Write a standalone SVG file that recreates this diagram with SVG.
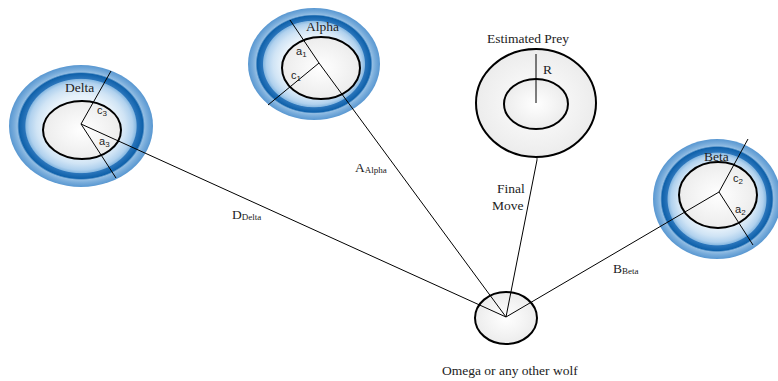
<svg xmlns="http://www.w3.org/2000/svg" width="778" height="381" viewBox="0 0 778 381">
  <defs>
    <radialGradient id="ring" cx="0.5" cy="0.5" r="0.5">
      <stop offset="0" stop-color="#ffffff"/>
      <stop offset="0.50" stop-color="#e6f1fa"/>
      <stop offset="0.62" stop-color="#d0e4f5"/>
      <stop offset="0.72" stop-color="#b0d1ee"/>
      <stop offset="0.765" stop-color="#8abae2"/>
      <stop offset="0.78" stop-color="#2a75bb"/>
      <stop offset="0.86" stop-color="#0f61aa"/>
      <stop offset="0.885" stop-color="#92bde3"/>
      <stop offset="0.93" stop-color="#78acdb"/>
      <stop offset="1" stop-color="#5897d1"/>
    </radialGradient>
    <radialGradient id="core" cx="0.5" cy="0.5" r="0.5">
      <stop offset="0" stop-color="#ffffff"/>
      <stop offset="1" stop-color="#ececec"/>
    </radialGradient>
  </defs>
  <style>
    .ln { stroke: #000; stroke-width: 1; fill: none; }
    .circ { stroke: #000; stroke-width: 2; fill: url(#core); }
    .wring { stroke: none; fill: url(#ring); }
    .lbl { font-family: "Liberation Serif", "Times New Roman", serif; font-size: 13.5px; fill: #222; }
    .sub { font-family: "Liberation Serif", "Times New Roman", serif; font-size: 9px; fill: #222; }
    .var { font-family: "Liberation Sans", Arial, sans-serif; font-size: 11px; fill: #222; }
    .vsub { font-family: "Liberation Sans", Arial, sans-serif; font-size: 8px; fill: #222; }
  </style>

  <rect width="778" height="381" fill="#ffffff"/>

  <!-- Delta wolf -->
  <g id="delta">
    <ellipse class="wring" cx="81" cy="126" rx="72" ry="61"/>
    <ellipse class="circ" cx="82" cy="130" rx="39" ry="29"/>
    <text class="lbl" x="65" y="92">Delta</text>
    <text class="var" x="97" y="114">c<tspan class="vsub" dy="2">3</tspan></text>
    <text class="var" x="99" y="145">a<tspan class="vsub" dy="2">3</tspan></text>
  </g>

  <!-- Alpha wolf -->
  <g id="alpha">
    <ellipse class="wring" cx="314" cy="64" rx="66" ry="56"/>
    <ellipse class="circ" cx="321" cy="68" rx="39" ry="31"/>
    <text class="lbl" x="306" y="31">Alpha</text>
    <text class="var" x="296" y="55">a<tspan class="vsub" dy="2">1</tspan></text>
    <text class="var" x="291" y="79">c<tspan class="vsub" dy="2">1</tspan></text>
  </g>

  <!-- Estimated prey -->
  <g id="prey">
    <ellipse class="circ" cx="536" cy="103" rx="60" ry="54"/>
    <ellipse class="circ" cx="536" cy="104" rx="32" ry="25"/>
    <text class="lbl" x="487" y="43">Estimated Prey</text>
    <line class="ln" x1="536" y1="54" x2="536" y2="103" stroke-width="1.3"/>
    <text class="lbl" x="543" y="74">R</text>
  </g>

  <!-- Beta wolf -->
  <g id="beta">
    <ellipse class="wring" cx="717" cy="199" rx="64" ry="60"/>
    <ellipse class="circ" cx="718" cy="195" rx="39" ry="33"/>
    <text class="lbl" x="704" y="161">Beta</text>
    <text class="var" x="733" y="182">c<tspan class="vsub" dy="2">2</tspan></text>
    <text class="var" x="735" y="213">a<tspan class="vsub" dy="2">2</tspan></text>
  </g>

  <!-- Omega wolf -->
  <g id="omega">
    <ellipse class="circ" cx="506" cy="318" rx="31" ry="26"/>
    <text class="lbl" x="442" y="375">Omega or any other wolf</text>
  </g>

  <!-- Connectors and radii -->
  <g id="connectors">
    <!-- Delta radii -->
    <line class="ln" x1="81" y1="124" x2="111" y2="71" stroke-width="1.3"/>
    <line class="ln" x1="81" y1="124" x2="116" y2="178" stroke-width="1.3"/>
    <!-- Alpha radii -->
    <line class="ln" x1="319" y1="63" x2="290" y2="20" stroke-width="1.3"/>
    <line class="ln" x1="319" y1="63" x2="268" y2="105" stroke-width="1.3"/>
    <!-- Beta radii -->
    <line class="ln" x1="719" y1="192" x2="748" y2="139" stroke-width="1.3"/>
    <line class="ln" x1="719" y1="192" x2="753" y2="245" stroke-width="1.3"/>
    <!-- Distances to omega -->
    <line class="ln" x1="81" y1="124" x2="506" y2="317"/>
    <line class="ln" x1="319" y1="63" x2="506" y2="317"/>
    <line class="ln" x1="719" y1="192" x2="506" y2="317"/>
    <line class="ln" x1="506" y1="317" x2="537" y2="160"/>
    <circle cx="537" cy="159" r="0.8" fill="#000"/>
  </g>

  <!-- Connector labels -->
  <g id="labels">
    <text class="lbl" x="355" y="172">A<tspan class="sub" dy="1">Alpha</tspan></text>
    <text class="lbl" x="232" y="219">D<tspan class="sub" dy="1">Delta</tspan></text>
    <text class="lbl" x="613" y="273">B<tspan class="sub" dy="1">Beta</tspan></text>
    <text class="lbl" x="497" y="193">Final</text>
    <text class="lbl" x="492" y="210">Move</text>
  </g>
</svg>
